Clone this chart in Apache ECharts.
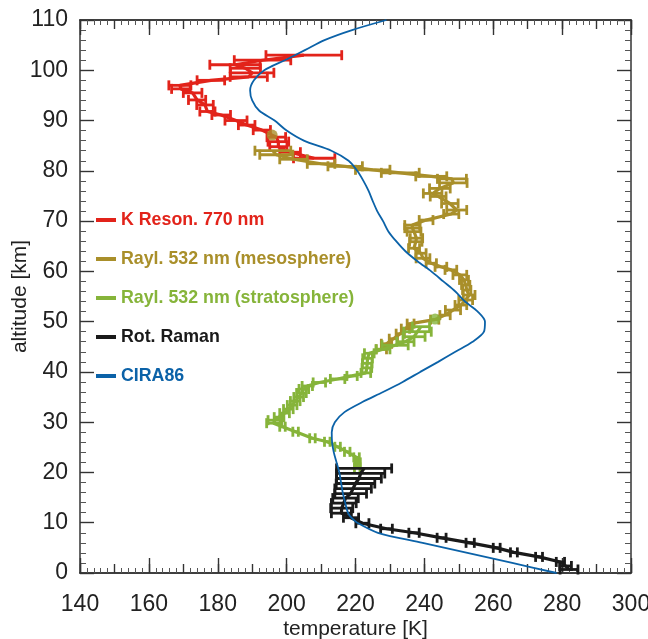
<!DOCTYPE html>
<html>
<head>
<meta charset="utf-8">
<script src="https://cdn.jsdelivr.net/npm/echarts@6/dist/echarts.min.js"></script>
<style>
html,body{margin:0;padding:0;background:#fff;}
#chart{width:648px;height:639px;}
</style>
</head>
<body>
<div id="chart"></div>
<script>
// ---------- tick labels ----------
var xTicks = [140, 160, 180, 200, 220, 240, 260, 280, 300];
var yTicks = [0, 10, 20, 30, 40, 50, 60, 70, 80, 90, 100, 110];

// ---------- K resonance 770 nm ----------
var kAlt  = [82.5, 83.7, 84.8, 85.8, 86.7, 88.1, 89.1, 90.0, 91.1, 91.8, 93.1, 94.1, 95.5, 96.3, 97.0, 98.0, 98.7, 99.5, 100.4, 101.1, 102.0, 103.0];
var kTemp = [208, 201, 197.6, 197.6, 197, 192.8, 188.4, 185.3, 181, 177, 176.3, 174, 172.7, 169.3, 169, 178, 189, 190, 188, 185, 193, 205];
var kErr  = [6, 3, 2.5, 3, 2.7, 2.5, 2.4, 3.2, 2.7, 2.2, 2.4, 2.5, 2.7, 2.7, 3.2, 4, 5.4, 6.3, 4.4, 7.3, 8.2, 11];

// ---------- Rayleigh 532 nm (mesosphere) ----------
var mesoAlt  = [84.0, 83.2, 82.3, 81.4, 80.9, 80.2, 79.6, 78.9, 78.4, 77.6, 76.5, 75.5, 74.9, 73.5, 72.2, 71.4, 70.2, 69.2, 68.6, 67.9, 66.6, 65.9, 64.6, 63.6, 62.6, 61.6, 60.9, 60.3, 59.3, 58.3, 57.3, 56.3, 55.3, 54.3, 53.3, 52.3, 51.3, 50.4, 49.6, 48.6, 47.6, 46.6, 45.6, 44.5];
var mesoTemp = [196, 197, 202, 210, 217, 225, 233, 242, 248, 248.4, 244.5, 242.4, 244, 247.4, 249.4, 247.8, 240.5, 236.5, 236.5, 237, 237.7, 237.5, 237, 239, 239.6, 242, 244.8, 247.7, 250.3, 251.5, 252, 252.3, 253, 252, 250.6, 248.3, 246, 243, 236, 234.5, 233, 231, 229, 227.5];
var mesoErr  = [5.2, 4.8, 4, 4, 5, 5, 5.5, 4.5, 4.2, 4, 3, 2.7, 2.3, 2.4, 2.9, 2.2, 2, 2.2, 2.2, 2, 1.8, 1.8, 1.6, 1.5, 2, 1.5, 1.7, 1.7, 2, 1.3, 1.2, 1.2, 1.7, 2, 1.7, 2.2, 1.5, 1.2, 1, 1.2, 1.2, 1.2, 1.5, 1.5];
var mesoDot  = [195.8, 87.1];

// ---------- Rayleigh 532 nm (stratosphere) ----------
var stratAlt  = [49.0, 48.0, 47.0, 46.0, 45.3, 44.5, 43.7, 42.7, 41.7, 40.8, 39.8, 39.2, 38.6, 37.9, 37.2, 36.6, 35.8, 35.0, 34.2, 33.4, 32.6, 31.8, 31.0, 30.4, 29.8, 29.1, 28.1, 26.8, 26.1, 25.1, 24.1, 23.0, 22.0, 21.0];
var stratTemp = [239, 238, 237, 234.5, 231.5, 228, 224, 223.5, 223.4, 223.3, 223, 219, 214.8, 209.5, 206, 205, 204.3, 203.5, 202.5, 201.6, 200.5, 199.4, 197.8, 196.6, 196.2, 198.8, 202.6, 207.5, 211.8, 214.8, 217.6, 220.3, 220.6, 220.5];
var stratErr  = [2.5, 4, 3.2, 2.5, 3.8, 2, 1.4, 1.4, 1.4, 1.4, 1.4, 1.5, 2.1, 1.8, 1.5, 1.4, 1.4, 1.4, 1.4, 1.4, 1.4, 1.4, 1.4, 2, 2, 0.8, 0.8, 0.8, 0.8, 0.8, 0.8, 0.8, 0.8, 0.8];
var stratDot  = [243.1, 50.5];

// ---------- Rotational Raman ----------
var rrAlt  = [0.7, 1.4, 2.2, 3.2, 4.1, 5.0, 6.0, 7.0, 8.0, 8.8, 9.9, 11.0, 11.9, 12.9, 13.9, 14.9, 15.8, 16.8, 17.8, 18.8, 19.8, 20.8];
var rrTemp = [282, 281, 279.5, 273.3, 266, 261, 253.3, 245, 237, 229, 222, 218.7, 215.9, 216, 216.6, 217.1, 218.6, 219.3, 220, 221, 221.5, 222.5];
var rrErr  = [2.6, 1.7, 1.2, 1, 1, 1, 1.2, 1.3, 1.5, 1.7, 1.9, 2.2, 2.9, 3.2, 3.6, 3.7, 4.6, 5.3, 5.6, 6.5, 7, 8];

// ---------- CIRA86 model ----------
var ciraAlt  = [0, 2, 4, 6, 8, 10, 11, 12, 14, 16, 18, 20, 22, 24, 26, 28, 30, 32, 34, 36, 38, 40, 42, 44, 46, 48, 50, 52, 54, 56, 58, 60, 62, 64, 66, 68, 70, 72, 74, 76, 78, 80, 82, 84, 86, 88, 90, 92, 94, 96, 98, 100, 102, 104, 106, 108, 110];
var ciraTemp = [278.4, 265.5, 252.5, 239.5, 226.5, 220.5, 218.8, 217.8, 217, 216.3, 215.8, 215.3, 214.5, 213.7, 213.2, 213.1, 214.0, 216.8, 222, 228, 233.7, 238.8, 244, 249, 254, 257.3, 257.6, 255.5, 251.8, 249, 245.5, 242, 238, 234.5, 231.8, 229.5, 228, 226.3, 225, 223.8, 222.3, 220.5, 218, 213, 205, 200, 196.5, 192, 190, 189.4, 190.5, 193.5, 199.5, 205.3, 211, 219, 229];

var names = ['K Reson. 770 nm', 'Rayl. 532 nm (mesosphere)', 'Rayl. 532 nm (stratosphere)', 'Rot. Raman', 'CIRA86'];
var colors = ['#e2231a', '#a98f2a', '#86b43a', '#1a1a1a', '#0b62a8'];

function pairs(T, A) { return T.map(function (t, i) { return [t, A[i]]; }); }
function triples(T, A, E) { return T.map(function (t, i) { return [t, A[i], E[i]]; }); }

function lineSeries(name, T, A, color, width, z) {
  return { type: 'line', name: name, data: pairs(T, A), showSymbol: false, symbol: 'none',
    lineStyle: { color: color, width: width }, itemStyle: { color: color }, z: z, animation: false };
}
function errSeries(id, T, A, E, color, z) {
  return { type: 'custom', name: id, data: triples(T, A, E), z: z, animation: false,
    encode: { x: 0, y: 1 },
    renderItem: function (params, api) {
      var t = api.value(0), a = api.value(1), e = api.value(2);
      if (!e) return null;
      var p1 = api.coord([t - e, a]), p2 = api.coord([t + e, a]);
      var h = 5, st = { stroke: color, lineWidth: 2.8 };
      return { type: 'group', children: [
        { type: 'line', shape: { x1: p1[0], y1: p1[1], x2: p2[0], y2: p2[1] }, style: st },
        { type: 'line', shape: { x1: p1[0], y1: p1[1] - h, x2: p1[0], y2: p1[1] + h }, style: st },
        { type: 'line', shape: { x1: p2[0], y1: p2[1] - h, x2: p2[0], y2: p2[1] + h }, style: st }
      ]};
    }
  };
}
function dotSeries(id, P, color, z) {
  return { type: 'scatter', name: id, data: [P], symbol: 'circle', symbolSize: 11,
    itemStyle: { color: color }, z: z, animation: false };
}

var FONT = '"Liberation Sans", Arial, Helvetica, sans-serif';
var axisCol = '#333';

function xAx(pos, showLabel, interval, tickLen, minor) {
  return {
    type: 'value', position: pos, min: xTicks[0], max: xTicks[xTicks.length - 1], interval: interval,
    axisLine: { show: true, onZero: false, lineStyle: { color: axisCol, width: 1.5 } },
    axisTick: { show: true, inside: true, length: tickLen, lineStyle: { color: axisCol, width: 1.4 } },
    minorTick: { show: minor, splitNumber: 10, length: 5, lineStyle: { color: '#555', width: 1 } },
    axisLabel: { show: showLabel, fontSize: 23, color: '#222', fontFamily: FONT, margin: 20 },
    splitLine: { show: false }, minorSplitLine: { show: false },
    name: showLabel ? 'temperature [K]' : '', nameLocation: 'middle', nameGap: 46, nameMoveOverlap: false,
    nameTextStyle: { fontSize: 21, color: '#222', fontFamily: FONT }
  };
}
function yAx(pos, showLabel) {
  return {
    type: 'value', position: pos, min: yTicks[0], max: yTicks[yTicks.length - 1], interval: yTicks[1] - yTicks[0],
    axisLine: { show: true, onZero: false, lineStyle: { color: axisCol, width: 1.5 } },
    axisTick: { show: true, inside: true, length: 14, lineStyle: { color: axisCol, width: 1.4 } },
    minorTick: { show: true, splitNumber: 5, length: 6, lineStyle: { color: '#555', width: 1 } },
    axisLabel: { show: showLabel, fontSize: 23, color: '#222', fontFamily: FONT, margin: 12 },
    splitLine: { show: false }, minorSplitLine: { show: false },
    name: showLabel ? 'altitude [km]' : '', nameLocation: 'middle', nameGap: 49, nameMoveOverlap: false,
    nameTextStyle: { fontSize: 21, color: '#222', fontFamily: FONT }
  };
}

var chart = echarts.init(document.getElementById('chart'), null, { renderer: 'canvas' });
var option = {
  animation: false,
  backgroundColor: '#fff',
  grid: { left: 80, right: 17, top: 20, bottom: 66, containLabel: false, outerBoundsMode: 'none' },
  xAxis: [
    xAx('bottom', true, xTicks[1] - xTicks[0], 15, true),
    xAx('bottom', false, (xTicks[1] - xTicks[0]) / 2, 9, false),
    xAx('top', false, xTicks[1] - xTicks[0], 15, true),
    xAx('top', false, (xTicks[1] - xTicks[0]) / 2, 9, false)
  ],
  yAxis: [yAx('left', true), yAx('right', false)],
  legend: {
    orient: 'vertical', left: 96, top: 211, padding: 0, itemGap: 21,
    icon: 'rect', itemWidth: 20, itemHeight: 4, selectedMode: false,
    textStyle: { fontSize: 17.8, fontWeight: 'bold', fontFamily: FONT, lineHeight: 18 },
    data: names.map(function (n, i) { return { name: n, textStyle: { color: colors[i] } }; })
  },
  series: [
    lineSeries(names[0], kTemp, kAlt, colors[0], 3.2, 2),
    errSeries('kErr', kTemp, kAlt, kErr, colors[0], 2),
    lineSeries(names[1], mesoTemp, mesoAlt, colors[1], 3.2, 3),
    errSeries('mesoErr', mesoTemp, mesoAlt, mesoErr, colors[1], 3),
    dotSeries('mesoDot', mesoDot, colors[1], 3),
    lineSeries(names[2], stratTemp, stratAlt, colors[2], 3.2, 4),
    errSeries('stratErr', stratTemp, stratAlt, stratErr, colors[2], 4),
    dotSeries('stratDot', stratDot, colors[2], 4),
    lineSeries(names[3], rrTemp, rrAlt, colors[3], 3.2, 5),
    errSeries('rrErr', rrTemp, rrAlt, rrErr, colors[3], 5),
    lineSeries(names[4], ciraTemp, ciraAlt, colors[4], 1.8, 6)
  ]
};
option.series[10].smooth = 0.3;
chart.setOption(option);
</script>
</body>
</html>
